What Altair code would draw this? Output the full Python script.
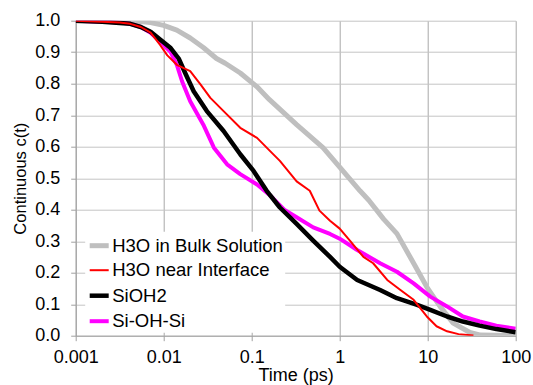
import altair as alt
import pandas as pd

series_names = ["H3O in Bulk Solution", "H3O near Interface", "SiOH2", "Si-OH-Si"]
series_colors = ["#BFBFBF", "#FF0000", "#000000", "#FF00FF"]
series_widths = [5, 2, 4.5, 4]

bulk_t = [0.001, 0.00316, 0.005, 0.0071, 0.01, 0.0141, 0.02, 0.0282, 0.0398, 0.05, 0.0741,
          0.115, 0.158, 0.324, 0.646, 1.0, 1.7, 2.14, 3.16, 4.47, 6.92, 10, 13.8, 19.5, 30.2, 39.8, 100]
bulk_c = [1.0, 1.0, 0.998, 0.994, 0.985, 0.97, 0.945, 0.915, 0.88, 0.865, 0.834,
          0.79, 0.75, 0.67, 0.597, 0.535, 0.46, 0.43, 0.37, 0.324, 0.23, 0.15, 0.093, 0.04, 0.01, 0.002, 0.0]

iface_t = [0.001, 0.002, 0.00316, 0.00417, 0.0055, 0.0071, 0.0091, 0.011, 0.0141, 0.02, 0.0263,
           0.0339, 0.0479, 0.0741, 0.115, 0.162, 0.209, 0.324, 0.457, 0.589, 0.776, 1.0, 1.32,
           1.86, 2.4, 3.47, 4.9, 6.92, 9.77, 12.6, 16.6, 22.4, 33.1]
iface_c = [1.0, 0.997, 0.994, 0.99, 0.98, 0.962, 0.923, 0.89, 0.86, 0.84, 0.797,
           0.755, 0.713, 0.66, 0.628, 0.586, 0.555, 0.49, 0.46, 0.397, 0.365, 0.34, 0.3,
           0.25, 0.23, 0.177, 0.145, 0.114, 0.061, 0.03, 0.014, 0.005, 0.001]

sioh2_t = [0.001, 0.002, 0.00316, 0.00417, 0.0055, 0.0071, 0.0091, 0.012, 0.0148, 0.0178, 0.0219,
           0.0309, 0.0479, 0.0741, 0.105, 0.148, 0.209, 0.324, 0.5, 0.776, 1.0, 1.58, 2.88,
           4.47, 7.59, 10.7, 16.6, 25.1, 38.9, 60.3, 100]
sioh2_c = [1.0, 0.997, 0.993, 0.99, 0.98, 0.965, 0.94, 0.913, 0.88, 0.83, 0.776,
           0.713, 0.65, 0.576, 0.523, 0.46, 0.407, 0.355, 0.302, 0.25, 0.219, 0.177, 0.145,
           0.119, 0.098, 0.082, 0.061, 0.045, 0.032, 0.021, 0.011]

siohsi_t = [0.001, 0.002, 0.00316, 0.00417, 0.0055, 0.0071, 0.0091, 0.012, 0.0141, 0.0162, 0.02,
            0.0282, 0.0372, 0.0525, 0.0741, 0.115, 0.162, 0.234, 0.324, 0.5, 0.776, 1.0, 1.58,
            2.88, 4.47, 6.92, 10.7, 16.6, 25.1, 38.9, 60.3, 100]
siohsi_c = [1.0, 0.997, 0.994, 0.99, 0.98, 0.962, 0.934, 0.9, 0.86, 0.807, 0.744,
            0.67, 0.597, 0.544, 0.513, 0.48, 0.445, 0.40, 0.376, 0.344, 0.323, 0.308, 0.272,
            0.23, 0.203, 0.166, 0.124, 0.093, 0.061, 0.045, 0.032, 0.022]

x_ticks = [0.001, 0.01, 0.1, 1, 10, 100]
y_ticks = [0.0, 0.1, 0.2, 0.3, 0.4, 0.5, 0.6, 0.7, 0.8, 0.9, 1.0]

frames = []
for name, ts, cs in zip(series_names,
                        [bulk_t, iface_t, sioh2_t, siohsi_t],
                        [bulk_c, iface_c, sioh2_c, siohsi_c]):
    frames.append(pd.DataFrame({"t": ts, "c": cs, "series": name}))
df = pd.concat(frames, ignore_index=True)

FONT = "Liberation Sans"

base = alt.Chart(df).mark_line(strokeCap="butt", strokeJoin="round", clip=True).encode(
    x=alt.X("t:Q", title="Time (ps)",
            scale=alt.Scale(type="log", domain=[0.001, 100], nice=False),
            axis=alt.Axis(values=x_ticks, format="~g", gridColor="#A8A8A8",
                          labelFlush=False,
                          titleY=30.5, titleBaseline="top")),
    y=alt.Y("c:Q", title="Continuous c(t)",
            scale=alt.Scale(domain=[0, 1], nice=False),
            axis=alt.Axis(values=y_ticks, format=".1f", gridColor="#C4C4C4",
                          labelFlush=False,
                          titleX=-55, titleY=157.5, titleAngle=-90,
                          titleBaseline="middle", titleAlign="center")),
    color=alt.Color("series:N", title=None,
                    scale=alt.Scale(domain=series_names, range=series_colors)),
    strokeWidth=alt.StrokeWidth("series:N", title=None,
                                scale=alt.Scale(type="ordinal", domain=series_names,
                                                range=series_widths)),
)

draw_order = ["H3O in Bulk Solution", "Si-OH-Si", "SiOH2", "H3O near Interface"]
layers = [base.transform_filter(alt.datum.series == n) for n in draw_order]

chart = alt.layer(*layers).properties(
    width=440,
    height=315,
    padding={"left": 75.7, "top": 20.7, "right": 17.3, "bottom": 49.3},
    autosize=alt.AutoSizeParams(type="none"),
).configure_view(
    stroke=None
).configure_axis(
    labelFont=FONT, titleFont=FONT,
    labelFontSize=18, labelColor="#000000", titleColor="#000000",
    titleFontWeight="normal",
    domainColor="#A0A0A0", tickColor="#A0A0A0",
    tickSize=5, gridWidth=1,
).configure_axisX(
    labelPadding=8, titleFontSize=18,
).configure_axisY(
    labelPadding=11, titleFontSize=16.5,
).configure_legend(
    orient="none", legendX=9.5, legendY=211,
    fillColor="#FFFFFF", padding=2,
    symbolType="stroke", symbolSize=361,
    labelFont=FONT, labelFontSize=18.5, labelColor="#000000",
    labelOffset=1, rowPadding=4, labelLimit=300,
)

chart.save("out.html", embed_options={"renderer": "svg", "actions": False})
